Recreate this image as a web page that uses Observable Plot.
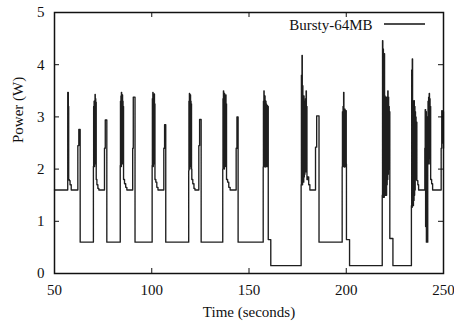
<!DOCTYPE html>
<html>
<head>
<meta charset="utf-8">
<script src="https://cdn.jsdelivr.net/npm/d3@7"></script>
<script src="https://cdn.jsdelivr.net/npm/@observablehq/plot@0.6"></script>
<style>
  html, body { margin: 0; padding: 0; background: #fff; }
</style>
</head>
<body>
<div id="chart"></div>
<script>
const seriesName = "Bursty-64MB";
const xLabel = "Time (seconds)";
const yLabel = "Power (W)";
const xTicks = [50, 100, 150, 200, 250];
const yTicks = [0, 1, 2, 3, 4, 5];

// sample times (seconds); each power value holds until the next time
const time = [
  50.0, 56.8, 57.1, 57.3, 57.6, 58.0, 58.6, 62.0, 62.5, 63.2,
  70.00, 70.12, 70.24, 70.36, 70.48, 70.60, 70.72, 70.84, 70.96, 71.08, 71.20, 71.32, 71.45, 71.80, 72.30, 72.80,
  75.7, 76.1, 76.9,
  83.80, 83.92, 84.04, 84.16, 84.28, 84.40, 84.52, 84.64, 84.76, 84.88, 85.00, 85.12, 85.24, 85.36, 85.50, 86.00, 86.60, 87.20,
  90.2, 90.5, 91.4,
  100.20, 100.32, 100.44, 100.56, 100.68, 100.80, 100.92, 101.04, 101.16, 101.28, 101.40, 101.52, 101.65, 102.10, 102.60, 103.20,
  106.2, 106.6, 107.2,
  119.00, 119.12, 119.24, 119.36, 119.48, 119.60, 119.72, 119.84, 119.96, 120.08, 120.20, 120.32, 120.45, 120.60, 121.10, 121.70, 122.20,
  124.2, 124.6, 125.4,
  136.50, 136.62, 136.74, 136.86, 136.98, 137.10, 137.22, 137.34, 137.46, 137.58, 137.70, 137.82, 137.94, 138.06, 138.18, 138.30, 138.45, 139.00, 139.60, 140.30,
  143.4, 143.8, 144.4,
  157.30, 157.42, 157.54, 157.66, 157.78, 157.90, 158.02, 158.14, 158.26, 158.38, 158.50, 158.62, 158.74, 158.86, 158.98, 159.10, 159.22, 159.34, 159.50, 159.90, 161.20,
  176.80, 176.95, 177.10, 177.25, 177.40, 177.55, 177.70, 177.85, 178.00, 178.15, 178.30, 178.45, 178.60, 178.75, 178.90, 179.05, 179.20, 179.35, 179.50, 179.65, 179.80, 180.20, 180.70, 181.30,
  184.2, 184.8, 186.0,
  197.90, 198.05, 198.20, 198.35, 198.50, 198.65, 198.80, 198.95, 199.10, 199.25, 199.40, 199.55, 199.70, 199.85, 200.00, 200.10, 201.70,
  218.50, 218.65, 218.80, 218.95, 219.10, 219.25, 219.40, 219.55, 219.70, 219.85, 220.00, 220.15, 220.30, 220.45, 220.60, 220.75, 220.90, 221.05, 221.20, 221.35, 221.50, 221.65, 221.80, 221.95, 222.10, 222.25, 222.40, 224.00,
  233.50, 233.65, 233.80, 233.95, 234.10, 234.25, 234.40, 234.55, 234.70, 234.85, 235.00, 235.15, 235.30, 235.45, 235.60, 235.75, 235.90, 236.05, 236.30, 236.80, 237.20,
  240.40, 240.60, 240.80, 241.00, 241.20, 241.40, 241.60,
  241.90, 242.05, 242.20, 242.35, 242.50, 242.65, 242.80, 242.95, 243.10, 243.25, 243.40, 243.90, 244.40,
  248.80, 249.10, 249.40, 249.70, 250.00
];

// power (W)
const power = [
  1.60, 3.47, 3.20, 1.80, 1.78, 1.70, 1.60, 2.45, 2.76, 0.60,
  2.05, 3.20, 2.10, 3.30, 2.05, 3.25, 2.15, 3.43, 2.10, 3.35, 2.30, 3.28, 1.80, 1.70, 1.63, 1.60,
  2.40, 2.94, 0.60,
  2.07, 3.30, 2.10, 3.40, 2.05, 3.47, 2.15, 3.35, 2.10, 3.42, 2.20, 3.30, 2.40, 3.20, 1.80, 1.72, 1.65, 1.60,
  2.40, 3.38, 0.60,
  2.07, 3.35, 2.10, 3.47, 2.05, 3.40, 2.15, 3.30, 2.10, 3.44, 2.25, 3.25, 1.80, 1.75, 1.65, 1.60,
  2.40, 2.85, 0.60,
  1.97, 3.30, 2.05, 3.45, 2.00, 3.38, 2.10, 3.42, 2.05, 3.30, 2.20, 3.25, 2.00, 1.80, 1.72, 1.63, 1.60,
  2.45, 2.95, 0.60,
  2.00, 3.35, 2.05, 3.50, 2.10, 3.40, 2.00, 3.45, 2.10, 3.38, 2.05, 3.30, 2.15, 3.42, 2.20, 3.25, 1.80, 1.75, 1.65, 1.60,
  2.40, 3.00, 0.60,
  2.04, 3.30, 2.10, 3.50, 2.05, 3.28, 2.10, 3.40, 2.04, 3.28, 2.10, 3.30, 2.05, 3.25, 2.10, 3.20, 2.05, 3.22, 3.20, 0.65, 0.15,
  1.70, 3.80, 1.75, 4.18, 1.70, 3.60, 1.80, 3.30, 1.75, 3.40, 1.85, 3.30, 1.90, 3.28, 2.00, 3.35, 1.95, 3.50, 2.00, 3.20, 1.80, 1.85, 1.70, 1.60,
  2.42, 3.02, 0.60,
  2.04, 3.10, 2.10, 3.20, 2.05, 3.47, 2.10, 3.12, 2.04, 3.15, 2.10, 3.10, 2.05, 3.12, 2.10, 0.65, 0.15,
  1.50, 4.46, 1.46, 4.30, 1.55, 3.60, 1.46, 4.21, 1.60, 3.40, 1.50, 3.38, 1.65, 3.35, 1.50, 3.38, 1.70, 3.30, 1.80, 3.50, 1.90, 3.38, 2.00, 3.20, 2.10, 3.10, 0.67, 0.15,
  1.30, 3.90, 1.27, 4.11, 1.35, 3.31, 1.30, 3.25, 1.40, 3.31, 1.50, 3.20, 1.60, 3.10, 1.80, 3.00, 2.00, 2.90, 1.78, 1.70, 1.60,
  2.40, 3.14, 0.90, 3.10, 0.60, 3.00, 0.60,
  2.10, 3.30, 2.15, 3.38, 2.10, 3.45, 2.20, 3.35, 2.30, 3.20, 1.80, 1.72, 1.60,
  2.40, 3.12, 2.50, 3.10, 2.40
];

const data = time.map((t, i) => ({t, p: power[i]}));

const font = "'Liberation Serif', 'Times New Roman', Times, serif";

function legendLine(index, scales, values, dimensions) {
  const x2 = dimensions.width - dimensions.marginRight - 18;
  const x1 = x2 - 41;
  const y = dimensions.marginTop + 12;
  return d3.create("svg:line")
    .attr("x1", x1).attr("x2", x2).attr("y1", y).attr("y2", y)
    .attr("stroke", "#111").attr("stroke-width", 1.4)
    .node();
}

const chart = Plot.plot({
  width: 454,
  height: 324,
  marginLeft: 54,
  marginRight: 11,
  marginTop: 12,
  marginBottom: 51,
  style: {fontFamily: font, fontSize: "15px", color: "#111", background: "#fff", overflow: "visible"},
  x: {domain: [50, 250]},
  y: {domain: [0, 5]},
  marks: [
    Plot.lineY(data, {x: "t", y: "p", curve: "step-after", stroke: "#1e1e1e", strokeWidth: 1.35}),
    Plot.tickX(xTicks, {x: d => d, insetTop: 256, stroke: "#111", strokeWidth: 1}),
    Plot.tickX(xTicks, {x: d => d, insetBottom: 256, stroke: "#111", strokeWidth: 1}),
    Plot.tickY(yTicks, {y: d => d, insetRight: 384, stroke: "#111", strokeWidth: 1}),
    Plot.tickY(yTicks, {y: d => d, insetLeft: 384, stroke: "#111", strokeWidth: 1}),
    Plot.frame({stroke: "#111", strokeWidth: 1.5}),
    Plot.axisX({ticks: xTicks, tickSize: 0, tickPadding: 11, label: null, fontSize: 15, tickFormat: d => String(d)}),
    Plot.axisY({ticks: yTicks, tickSize: 0, tickPadding: 10, label: null, fontSize: 15, tickFormat: d => String(d)}),
    Plot.text([xLabel], {frameAnchor: "bottom", dy: 39, lineAnchor: "middle", fontSize: 15, fill: "#111"}),
    Plot.text([yLabel], {frameAnchor: "left", dx: -36, rotate: -90, lineAnchor: "middle", fontSize: 15, fill: "#111"}),
    Plot.text([seriesName], {frameAnchor: "top-right", dx: -71, dy: 12.5, textAnchor: "end", lineAnchor: "middle", fontSize: 15, fill: "#111"}),
    legendLine
  ]
});

document.getElementById("chart").appendChild(chart);
</script>
</body>
</html>
